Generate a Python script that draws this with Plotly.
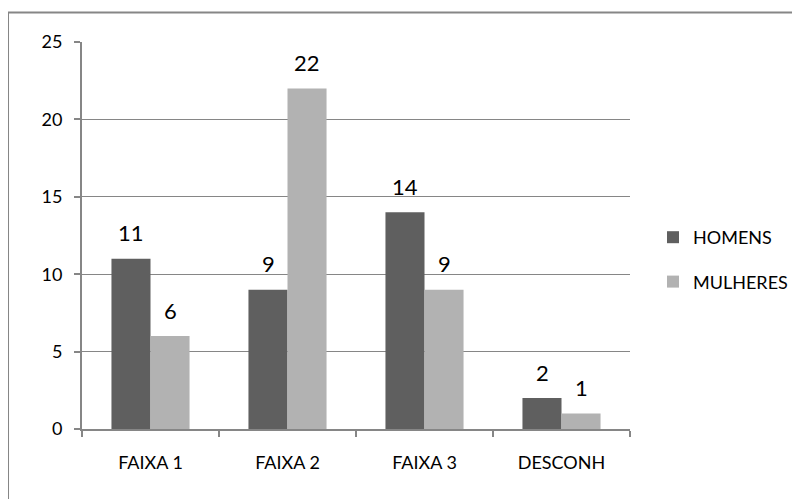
import plotly.graph_objects as go

categorias = ["FAIXA 1", "FAIXA 2", "FAIXA 3", "DESCONH"]
homens = [11, 9, 14, 2]
mulheres = [6, 22, 9, 1]
series = [("HOMENS", homens, "#5f5f5f"), ("MULHERES", mulheres, "#b2b2b2")]
y_ticks = [0, 5, 10, 15, 20, 25]

fonte = "Lato, 'Liberation Sans', Arial, sans-serif"

fig = go.Figure()
for i, (nome, valores, cor) in enumerate(series):
    fig.add_trace(go.Bar(
        x=categorias, y=valores, name=nome, marker_color=cor,
        marker_line_width=0, legendgroup=nome,
    ))

# rótulos de dados acima das barras
for i, (nome, valores, cor) in enumerate(series):
    for cat, v in zip(categorias, valores):
        fig.add_annotation(
            x=cat, y=v, text=str(v), showarrow=False,
            xshift=-19.5 if i == 0 else 19.5, yshift=26,
            font=dict(size=22, color="#000000", family=fonte),
        )

# moldura do gráfico
fig.add_shape(type="rect", xref="paper", yref="paper",
              x0=-0.135, x1=1.5, y0=-0.5, y1=1.076,
              line=dict(color="#868686", width=2), layer="below")

fig.update_layout(
    width=800, height=499,
    margin=dict(l=74, r=178, t=34, b=78),
    paper_bgcolor="white", plot_bgcolor="white",
    barmode="group", bargap=0.43, bargroupgap=0,
    font=dict(family=fonte, size=18, color="#000000"),
    showlegend=True,
    legend=dict(x=1.042, y=0.438, xanchor="left", yanchor="middle",
                font=dict(size=18), tracegroupgap=18,
                bgcolor="rgba(0,0,0,0)"),
    xaxis=dict(showline=True, linecolor="#868686", linewidth=2,
               ticks="outside", tickson="boundaries", ticklen=6,
               tickcolor="#868686", tickwidth=2, showgrid=False,
               tickfont=dict(size=18), ticklabelstandoff=16),
    yaxis=dict(range=[0, 25], tickvals=y_ticks, showline=True,
               linecolor="#868686", linewidth=2, ticks="outside",
               ticklen=6, tickcolor="#868686", tickwidth=2,
               gridcolor="#868686", gridwidth=1, zeroline=False,
               tickfont=dict(size=18), ticklabelstandoff=8),
)

fig.write_html("out.html")
